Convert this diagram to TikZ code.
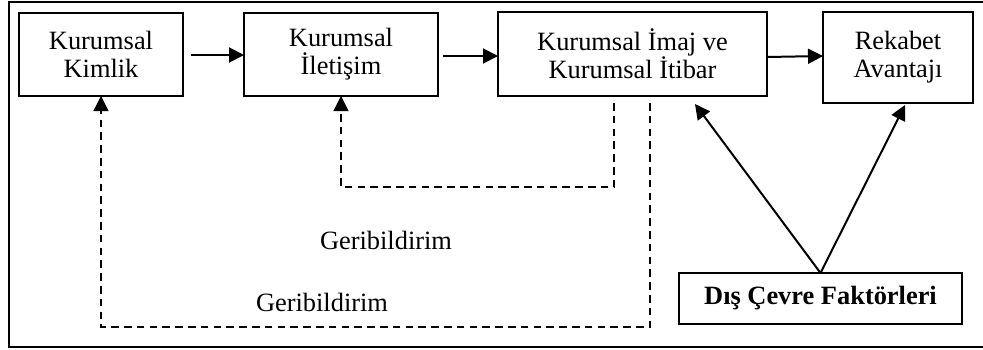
\documentclass[tikz,border=0pt]{standalone}
\usepackage{fontspec}
\setmainfont{Liberation Serif}
\usetikzlibrary{arrows.meta}
\begin{document}
\begin{tikzpicture}[x=0.5pt,y=-0.5pt,
  box/.style={draw,line width=0.65pt,inner sep=0pt,outer sep=0pt,align=center,
    font=\fontsize{13.2pt}{14pt}\selectfont},
  flow/.style={line width=1pt,-{Triangle[length=7.5pt,width=7.5pt]}},
  fb/.style={line width=0.65pt,dash pattern=on 3.8pt off 2.6pt},
  lbl/.style={font=\fontsize{13.2pt}{14pt}\selectfont,inner sep=0pt}]
\useasboundingbox (0,0) rectangle (983,349);
\draw[line width=1pt] (995,2) -- (9,2) -- (9,347) -- (995,347);
\node[box,minimum width=82pt,minimum height=41.5pt] (kimlik) at (101,54.5) {Kurumsal\\Kimlik};
\node[box,minimum width=97pt,minimum height=41.5pt] (iletisim) at (341,54.5) {Kurumsal\\İletişim};
\node[box,minimum width=134.5pt,minimum height=42pt] (imaj) at (632.5,54) {Kurumsal İmaj ve\\Kurumsal İtibar};
\node[box,minimum width=75pt,minimum height=45.5pt] (rekabet) at (898,57.5) {Rekabet\\Avantajı};
\node[box,minimum width=141.5pt,minimum height=25.5pt,font=\fontsize{13.2pt}{14pt}\selectfont\bfseries] (dis) at (820.5,298.5) {Dış Çevre Faktörleri};
\node[lbl] (gb1) at (386,240) {Geribildirim};
\node[lbl] (gb2) at (322,302) {Geribildirim};
\draw[flow,shorten <=4pt] (kimlik.east |- 0,55) -- (iletisim.west |- 0,55);
\draw[flow,shorten <=2.5pt] (iletisim.east |- 0,56) -- (imaj.west |- 0,56);
\draw[flow] (imaj.east |- 0,57) -- (rekabet.west |- 0,56);
\coordinate (d1s) at (614,103);
\coordinate (d2s) at (650,103);
\draw[fb,-{Triangle[length=7.5pt,width=7.5pt]}] (d1s) -- (614,187) -- (341,187) -- (iletisim.south);
\draw[fb,-{Triangle[length=7.5pt,width=7.5pt]}] (d2s) -- (650,327) -- (101,327) -- (kimlik.south);
\coordinate (t1) at (695,104);
\coordinate (t2) at (905,105);
\draw[flow] (dis.north) -- (t1);
\draw[flow] (dis.north) -- (t2);
\end{tikzpicture}
\end{document}
